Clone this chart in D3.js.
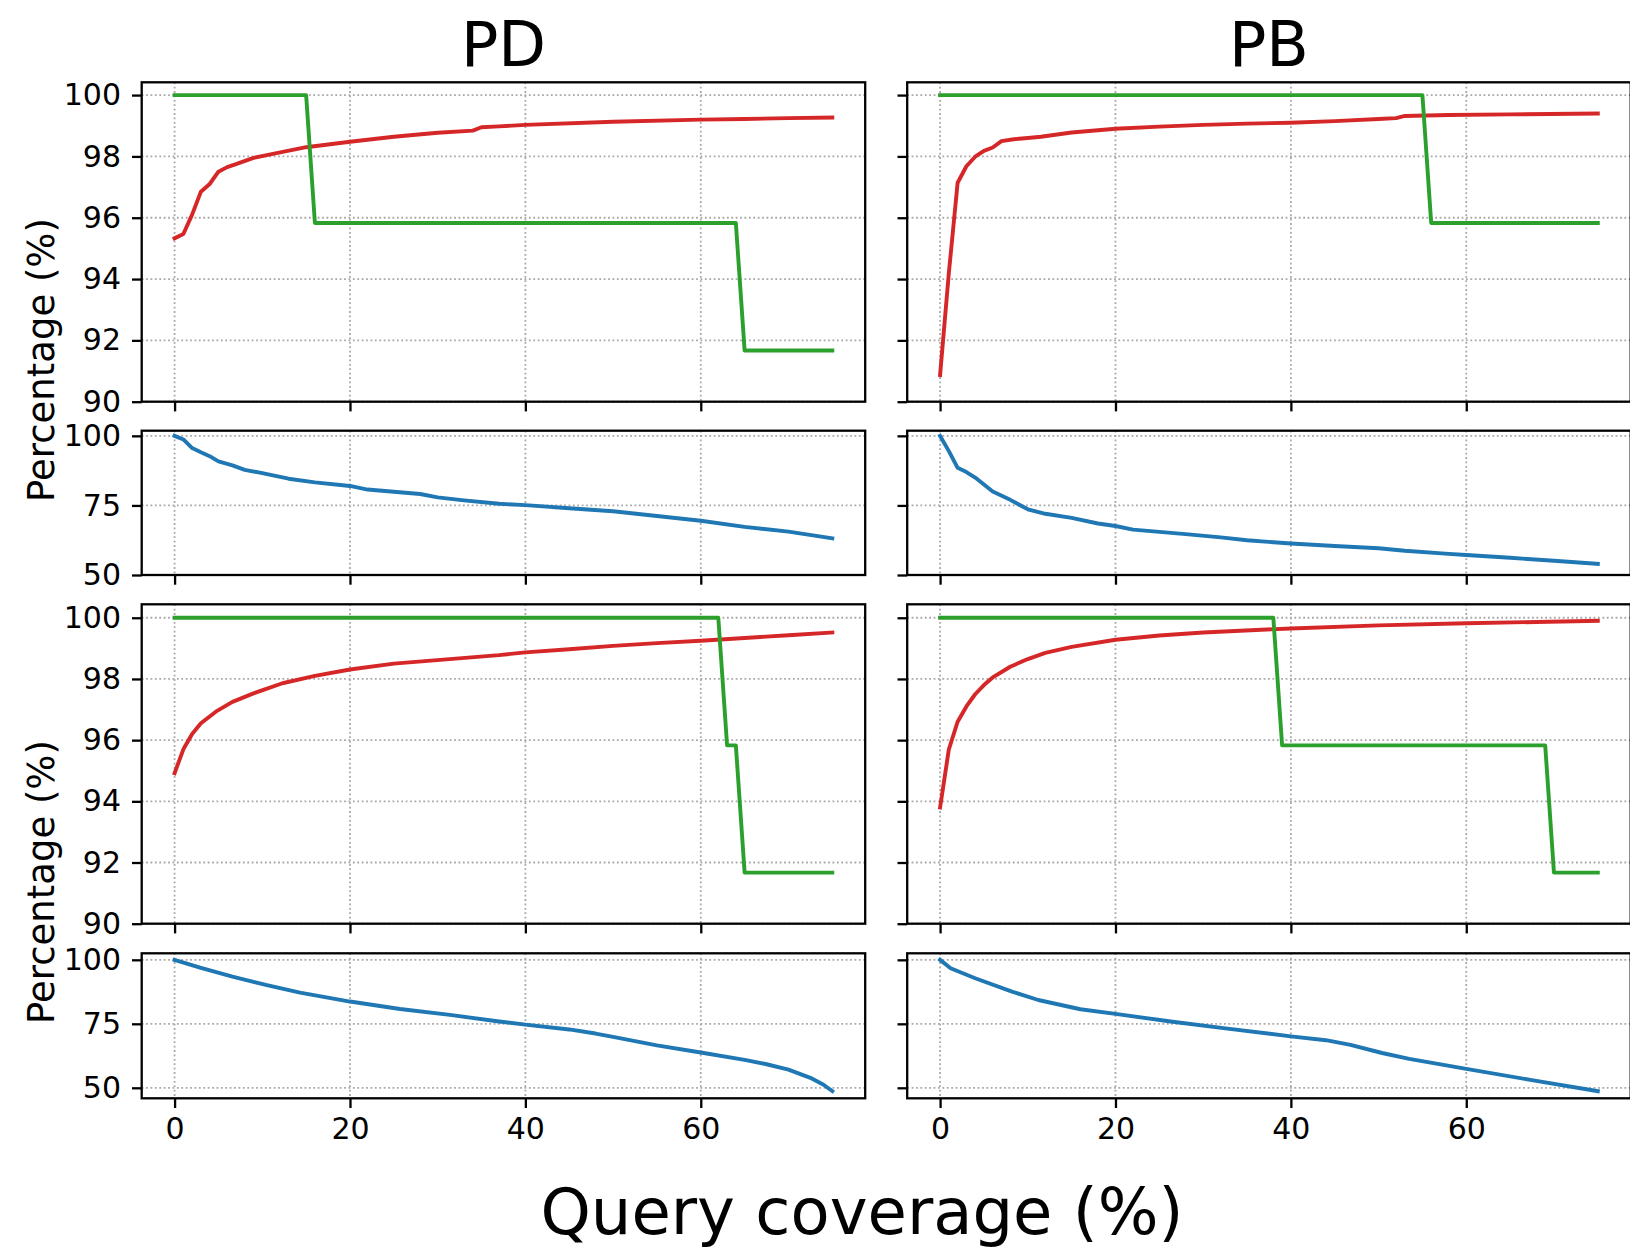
<!DOCTYPE html>
<html>
<head>
<meta charset="utf-8">
<script src="https://cdn.jsdelivr.net/npm/d3@7"></script>
<style>
  html, body { margin: 0; padding: 0; background: #fff; }
  svg { display: block; }
</style>
</head>
<body>
<svg id="chart" width="1630" height="1249"></svg>
<script>
// ---- labels and ticks ----
const columnTitles = ["PD", "PB"];
const xAxisLabel = "Query coverage (%)";
const yAxisLabel = "Percentage (%)";
const xTicks = [0, 20, 40, 60];
const pctTicksFine = [90, 92, 94, 96, 98, 100];
const pctTicksCoarse = [50, 75, 100];

// ---- PD column, upper block: [coverage, percentage] ----
const pdUpperRed = [[0,95.33],[1,95.47],[2,96.1],[3,96.85],[4,97.1],[5,97.5],[6,97.65],[7,97.75],[9,97.95],[11.5,98.1],[15,98.3],[20,98.48],[25,98.64],[30,98.77],[34,98.84],[35,98.95],[37,98.98],[40,99.03],[50,99.13],[60,99.2],[65,99.22],[70,99.25],[75,99.27]];
const pdUpperGreen = [[0,100],[15,100],[16,95.83],[64,95.83],[65,91.67],[75,91.67]];
const pdUpperBlue = [[0,100],[1,98.7],[2,95.6],[3,94.1],[4,92.7],[5,90.8],[6.6,89.4],[8,87.8],[10,86.6],[13,84.6],[16,83.3],[20,82],[22,80.7],[25,79.9],[28,79.1],[30,77.9],[33,76.8],[37,75.6],[40,75.1],[45,74],[50,72.9],[55,71.2],[60,69.5],[65,67.3],[70,65.6],[75,63.2]];

// ---- PB column, upper block ----
const pbUpperRed = [[0,90.87],[1,94.2],[2,97.14],[3,97.68],[4,97.99],[5,98.18],[6,98.29],[7,98.5],[8.4,98.56],[10,98.6],[11.5,98.64],[15,98.78],[20,98.9],[25,98.97],[30,99.03],[35,99.07],[40,99.1],[45,99.15],[50,99.22],[52,99.25],[53,99.32],[58,99.35],[65,99.37],[75,99.4]];
const pbUpperGreen = [[0,100],[55,100],[56,95.83],[75,95.83]];
const pbUpperBlue = [[0,100],[1,94.5],[2,88.5],[3,87],[4,85],[5,82.5],[6,80],[8,77],[10,73.6],[12,72],[15,70.5],[18,68.5],[20,67.6],[22,66.3],[25,65.5],[28,64.7],[32,63.5],[35,62.5],[40,61.3],[45,60.4],[50,59.6],[53,58.7],[58,57.6],[60,57.2],[65,56.2],[70,55.1],[75,54.0]];

// ---- PD column, lower block ----
const pdLowerRed = [[0,94.92],[1,95.7],[2,96.2],[3,96.55],[4.7,96.93],[6.6,97.25],[9,97.53],[12.3,97.86],[16,98.1],[20,98.31],[25,98.5],[31,98.64],[37,98.78],[40,98.87],[45,98.97],[50,99.08],[55,99.17],[60,99.25],[65,99.34],[70,99.43],[75,99.52]];
const pdLowerGreen = [[0,100],[62,100],[63,95.83],[64,95.83],[65,91.67],[75,91.67]];
const pdLowerBlue = [[0,100],[3,96.9],[6.6,93.4],[10.4,90.2],[14.3,87.2],[20,83.7],[25.7,80.8],[31.4,78.5],[37,75.9],[40,74.7],[45,72.8],[48,71.2],[50,69.9],[55,66.6],[60,63.8],[65,60.9],[67.5,59.2],[70,57.1],[72.5,53.9],[74,51.2],[75,48.7]];

// ---- PB column, lower block ----
const pbLowerRed = [[0,93.8],[1,95.7],[2,96.6],[3,97.1],[4,97.5],[5,97.8],[6,98.05],[8,98.4],[10,98.65],[12,98.85],[15,99.05],[20,99.28],[25,99.42],[30,99.52],[40,99.65],[50,99.75],[60,99.82],[75,99.9]];
const pbLowerGreen = [[0,100],[38,100],[39,95.83],[69,95.83],[70,91.67],[75,91.67]];
const pbLowerBlue = [[0,100],[1.2,96.7],[4,92.8],[8.2,87.6],[11.2,84.3],[16,80.7],[20,78.9],[26.3,75.9],[32.3,73.3],[40,70.1],[44,68.6],[46.8,66.8],[50.4,63.6],[53.5,61.3],[60,57.4],[67.3,53.1],[75,48.7]];

// ---- styling ----
const RED = "#d62728", GREEN = "#2ca02c", BLUE = "#1f77b4";
const FONT = "DejaVu Sans, sans-serif";

// panel geometry (pixels)
const colRanges = [[141.7, 865.2], [907.2, 1630.7]];
const rowSpecs = [
  { range: [82.3, 401.7],   domain: [90, 100.417],  ticks: pctTicksFine },
  { range: [430.7, 575],    domain: [50, 101.85],   ticks: pctTicksCoarse },
  { range: [604.3, 923.7],  domain: [90, 100.44],   ticks: pctTicksFine },
  { range: [953.3, 1098.3], domain: [45.9, 102.55], ticks: pctTicksCoarse }
];
const xDomain = [-3.75, 78.75];

// series drawn in each panel: [row][col]
const panelSeries = [
  [[{d: pdUpperRed, c: RED}, {d: pdUpperGreen, c: GREEN}], [{d: pbUpperRed, c: RED}, {d: pbUpperGreen, c: GREEN}]],
  [[{d: pdUpperBlue, c: BLUE}], [{d: pbUpperBlue, c: BLUE}]],
  [[{d: pdLowerRed, c: RED}, {d: pdLowerGreen, c: GREEN}], [{d: pbLowerRed, c: RED}, {d: pbLowerGreen, c: GREEN}]],
  [[{d: pdLowerBlue, c: BLUE}], [{d: pbLowerBlue, c: BLUE}]]
];

const svg = d3.select("#chart");

rowSpecs.forEach((row, r) => {
  colRanges.forEach((cr, c) => {
    const x = d3.scaleLinear().domain(xDomain).range(cr);
    const y = d3.scaleLinear().domain(row.domain).range([row.range[1], row.range[0]]);
    const g = svg.append("g");
    const clipId = `clip-${r}-${c}`;
    g.append("clipPath").attr("id", clipId)
      .append("rect")
      .attr("x", cr[0]).attr("y", row.range[0])
      .attr("width", cr[1] - cr[0]).attr("height", row.range[1] - row.range[0]);

    // dotted grid
    const grid = g.append("g").attr("clip-path", `url(#${clipId})`)
      .attr("stroke", "#a8a8a8").attr("stroke-width", 1.8)
      .attr("stroke-dasharray", "1.8 2.6");
    grid.selectAll("line.gx").data(xTicks).join("line")
      .attr("class", "gx")
      .attr("x1", d => x(d)).attr("x2", d => x(d))
      .attr("y1", row.range[0]).attr("y2", row.range[1]);
    grid.selectAll("line.gy").data(row.ticks).join("line")
      .attr("class", "gy")
      .attr("x1", cr[0]).attr("x2", cr[1])
      .attr("y1", d => y(d)).attr("y2", d => y(d));

    // series lines
    const line = d3.line().x(d => x(d[0])).y(d => y(d[1]));
    const lines = g.append("g").attr("clip-path", `url(#${clipId})`);
    panelSeries[r][c].forEach(s => {
      lines.append("path")
        .attr("d", line(s.d))
        .attr("fill", "none")
        .attr("stroke", s.c)
        .attr("stroke-width", 3.9)
        .attr("stroke-linejoin", "round")
        .attr("stroke-linecap", "square");
    });

    // axes
    const yAxis = d3.axisLeft(y).tickValues(row.ticks).tickSize(9.7).tickPadding(11)
      .tickFormat(c === 0 ? d3.format("d") : () => "");
    const ya = g.append("g").attr("transform", `translate(${cr[0]},0)`).call(yAxis);
    const xAxis = d3.axisBottom(x).tickValues(xTicks).tickSize(9.7).tickPadding(10)
      .tickFormat(r === rowSpecs.length - 1 ? d3.format("d") : () => "");
    const xa = g.append("g").attr("transform", `translate(0,${row.range[1]})`).call(xAxis);
    [ya, xa].forEach(a => {
      a.select(".domain").remove();
      a.selectAll(".tick line").attr("stroke", "#000").attr("stroke-width", 2.3);
      a.selectAll(".tick text").attr("fill", "#000")
        .style("font-family", FONT).style("font-size", "30px");
    });

    // frame
    g.append("rect")
      .attr("x", cr[0]).attr("y", row.range[0])
      .attr("width", cr[1] - cr[0]).attr("height", row.range[1] - row.range[0])
      .attr("fill", "none").attr("stroke", "#000").attr("stroke-width", 2.3);
  });
});

// column titles
columnTitles.forEach((t, c) => {
  svg.append("text")
    .attr("x", (colRanges[c][0] + colRanges[c][1]) / 2)
    .attr("y", 66)
    .attr("text-anchor", "middle")
    .style("font-family", FONT).style("font-size", "62px")
    .text(t);
});

// shared x label
svg.append("text")
  .attr("x", 862).attr("y", 1234)
  .attr("text-anchor", "middle")
  .style("font-family", FONT).style("font-size", "64px")
  .text(xAxisLabel);

// y labels, one per block
[360, 882].forEach(cy => {
  svg.append("text")
    .attr("transform", `translate(54,${cy}) rotate(-90)`)
    .attr("text-anchor", "middle")
    .style("font-family", FONT).style("font-size", "37px")
    .text(yAxisLabel);
});
</script>
</body>
</html>
